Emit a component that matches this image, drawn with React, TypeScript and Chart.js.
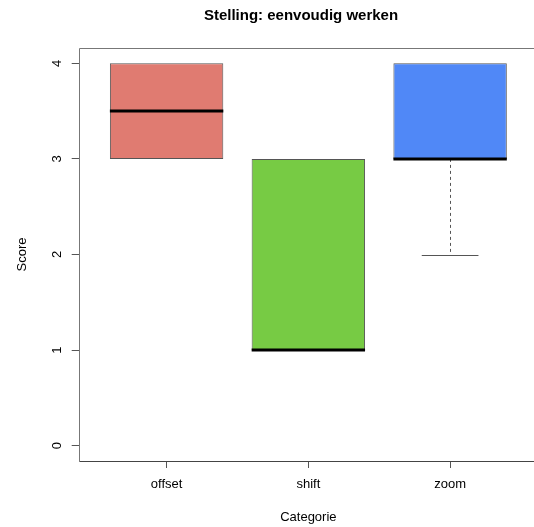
import React, { useEffect, useRef } from "react";
import { Chart, registerables } from "chart.js";

Chart.register(...registerables);

const categories = ["offset", "shift", "zoom"];
const q1 = [3, 1, 3];
const q3 = [4, 3, 4];
const medians = [3.5, 1, 3];
const whiskerLow = [3, 1, 2];
const whiskerHigh = [4, 3, 4];
const boxColors = ["#E07B71", "#77CB44", "#5088F7"];
const yTicks = [0, 1, 2, 3, 4];
const titleText = "Stelling: eenvoudig werken";
const xTitle = "Categorie";
const yTitle = "Score";

const FONT = "'Liberation Sans', Arial, Helvetica, sans-serif";

const framePlugin = {
  id: "frameAndBoxes",
  afterDatasetsDraw(chart: any) {
    const { ctx, chartArea, scales } = chart;
    const xs = scales.x;
    const ys = scales.y;
    const meta = chart.getDatasetMeta(0);
    ctx.save();
    categories.forEach((_, i) => {
      const xc = xs.getPixelForValue(i + 1);
      const el: any = meta.data[i];
      const half = el ? el.width / 2 : 56;
      ctx.strokeStyle = "#555";
      ctx.lineWidth = 1;
      const segs: [number, number][] = [];
      if (whiskerLow[i] < q1[i]) segs.push([q1[i], whiskerLow[i]]);
      if (whiskerHigh[i] > q3[i]) segs.push([q3[i], whiskerHigh[i]]);
      segs.forEach(([from, to]) => {
        ctx.setLineDash([3, 3]);
        ctx.beginPath();
        ctx.moveTo(Math.round(xc) + 0.5, ys.getPixelForValue(from));
        ctx.lineTo(Math.round(xc) + 0.5, ys.getPixelForValue(to));
        ctx.stroke();
        ctx.setLineDash([]);
        const yy = Math.round(ys.getPixelForValue(to)) + 0.5;
        ctx.beginPath();
        ctx.moveTo(xc - half / 2, yy);
        ctx.lineTo(xc + half / 2, yy);
        ctx.stroke();
      });
      ctx.setLineDash([]);
      ctx.strokeStyle = "#000";
      ctx.lineWidth = 3;
      const ym = ys.getPixelForValue(medians[i]);
      ctx.beginPath();
      ctx.moveTo(xc - half, ym);
      ctx.lineTo(xc + half, ym);
      ctx.stroke();
    });
    // plot frame (right side lies beyond the visible page)
    const l = Math.round(chartArea.left) + 0.5;
    const t = Math.round(chartArea.top) + 0.5;
    const b = Math.round(chartArea.bottom) + 0.5;
    const r = chartArea.right + 10;
    ctx.lineWidth = 1;
    ctx.strokeStyle = "#777";
    ctx.beginPath();
    ctx.moveTo(r, t);
    ctx.lineTo(l, t);
    ctx.lineTo(l, b);
    ctx.stroke();
    ctx.strokeStyle = "#444";
    ctx.beginPath();
    ctx.moveTo(l, b);
    ctx.lineTo(r, b);
    ctx.stroke();
    ctx.fillStyle = "#000";
    ctx.font = `bold 15px ${FONT}`;
    ctx.textAlign = "center";
    ctx.textBaseline = "middle";
    ctx.fillText(titleText, 301, 16);
    ctx.restore();
  },
};

export default function App() {
  const ref = useRef<HTMLCanvasElement | null>(null);

  useEffect(() => {
    document.body.style.margin = "0";
    document.body.style.overflow = "hidden";
    document.documentElement.style.overflow = "hidden";
    if (!ref.current) return;
    Chart.defaults.font.family = FONT;
    Chart.defaults.color = "#000";
    const chart = new Chart(ref.current, {
      type: "bar",
      data: {
        datasets: [
          {
            data: categories.map((_, i) => ({ x: i + 1, y: [q1[i], q3[i]] })) as any,
            backgroundColor: boxColors,
            borderColor: "#555",
            borderWidth: 1,
            borderSkipped: false,
            categoryPercentage: 1,
            barPercentage: 0.8,
          },
        ],
      },
      options: {
        animation: false,
        responsive: false,
        layout: { padding: { top: 48, right: 7, left: 0, bottom: 0 } },
        plugins: {
          legend: { display: false },
          tooltip: { enabled: false },
          title: { display: false },
        },
        scales: {
          x: {
            type: "linear",
            offset: false,
            min: 0.38,
            max: 3.62,
            afterBuildTicks: (s: any) => {
              s.ticks = categories.map((_, i) => ({ value: i + 1 }));
            },
            afterFit: (s: any) => {
              s.height = 66;
            },
            ticks: {
              callback: (v: any) => categories[Math.round(Number(v)) - 1] ?? "",
              padding: 9,
              font: { size: 13 },
              maxRotation: 0,
              minRotation: 0,
              autoSkip: false,
            },
            grid: { offset: false, drawOnChartArea: false, tickLength: 7, color: "#555" },
            border: { display: false },
            title: {
              display: true,
              text: xTitle,
              font: { size: 13 },
              padding: { top: 0, bottom: 2 },
            },
          },
          y: {
            type: "linear",
            min: -0.16,
            max: 4.16,
            afterBuildTicks: (s: any) => {
              s.ticks = yTicks.map((v) => ({ value: v }));
            },
            afterFit: (s: any) => {
              s.width = 78.7;
            },
            ticks: {
              minRotation: 90,
              maxRotation: 90,
              crossAlign: "center",
              padding: 11,
              font: { size: 13 },
              autoSkip: false,
              callback: (v: any) => String(v),
            },
            grid: { drawOnChartArea: false, tickLength: 7, color: "#555" },
            border: { display: false },
            title: {
              display: true,
              text: yTitle,
              font: { size: 13 },
              padding: { top: 15, bottom: 0 },
            },
          },
        },
      },
      plugins: [framePlugin],
    } as any);
    return () => chart.destroy();
  }, []);

  return (
    <div style={{ width: 545, height: 527, background: "#fff" }}>
      <canvas ref={ref} width={545} height={527} />
    </div>
  );
}
